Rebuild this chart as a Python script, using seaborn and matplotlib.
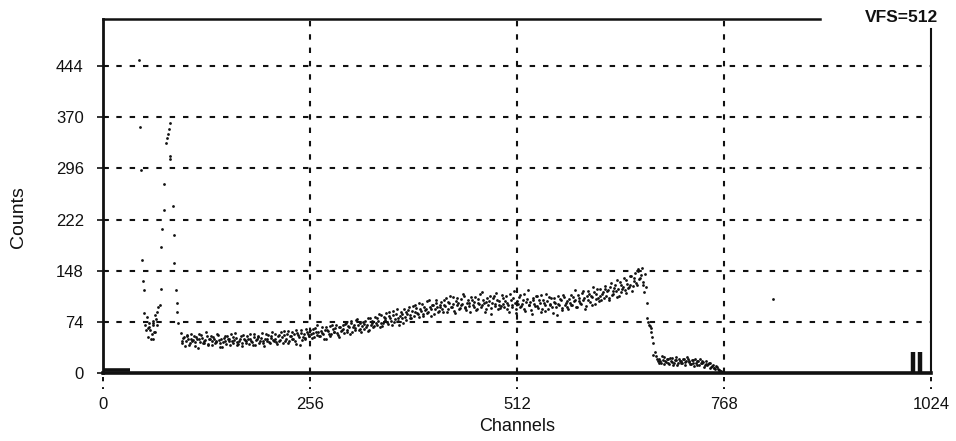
import numpy as np
import pandas as pd
import matplotlib
matplotlib.use("Agg")
import matplotlib.pyplot as plt
import matplotlib.transforms as mtransforms
import seaborn as sns

# ---------------- data ----------------
x_ticks = [0, 256, 512, 768, 1024]
y_ticks = [0, 74, 148, 222, 296, 370, 444]
x_max = 1024
y_max = 512  # VFS

# early peaks (channels ~44-93)
early_ch = [44, 46, 47, 48, 49, 50, 51, 52, 53, 54, 55, 55, 56, 57, 58, 59, 60, 61, 61,
            62, 62, 63, 64, 64, 65, 66, 67, 68, 70, 71, 72, 73, 75, 75, 77, 79, 80, 81,
            82, 82, 83, 86, 87, 88, 90, 91, 91, 93]
early_counts = [452, 356, 293, 164, 133, 120, 87, 70, 63, 81, 65, 52, 66, 72, 62, 50, 57, 76, 50,
                69, 73, 60, 84, 59, 78, 88, 70, 95, 98, 122, 183, 208, 236, 274, 333, 340, 346, 353,
                362, 314, 310, 241, 200, 159, 120, 102, 88, 72]

# main plateau, even channels starting at 96
body_even_start = 96
body_even_counts = [
    58, 44, 52, 47, 55, 41, 50, 46, 53, 39, 49, 57, 45, 51, 43, 48, 54, 40, 50, 46,
    52, 44, 47, 55, 38, 49, 45, 53, 42, 50, 47, 56, 43, 48, 51, 40, 46, 54, 44, 49,
    47, 53, 42, 50, 45, 56, 41, 49, 52, 46, 58, 44, 50, 47, 55, 43, 51, 48, 57, 45,
    53, 47, 59, 44, 55, 50, 61, 46, 54, 49, 57, 42, 58, 52, 63, 48, 56, 51, 60, 54,
    62, 51, 58, 65, 55, 60, 53, 67, 57, 63, 50, 61, 68, 56, 64, 59, 70, 55, 66, 61,
    69, 58, 72, 63, 67, 75, 60, 70, 65, 78, 62, 73, 68, 64, 76, 70, 61, 79, 72, 67,
    81, 70, 76, 66, 84, 73, 79, 87, 71, 82, 76, 90, 74, 85, 79, 69, 88, 80, 92, 77,
    86, 95, 79, 90, 83, 98, 87, 81, 93, 100, 85, 91, 104, 88, 96, 82, 99, 92, 106, 89,
    95, 103, 88, 99, 108, 92, 101, 96, 110, 90, 104, 98, 93, 107, 100, 112, 94, 102, 97, 88,
    105, 96, 110, 92, 101, 114, 98, 106, 89, 103, 99, 111, 94, 108, 100, 116, 93, 104, 97, 109,
    95, 112, 101, 88, 106, 98, 118, 92, 104, 110, 96, 100, 114, 90, 107, 99, 103, 85, 109, 97,
    111, 94, 102, 89, 106, 98, 115, 92, 100, 108, 87, 103, 96, 112, 99, 105, 91, 110, 101, 95,
    107, 113, 98, 104, 120, 95, 109, 102, 116, 106, 93, 112, 118, 103, 110, 125, 100, 114, 108, 121,
    105, 117, 126, 111, 120, 108, 130, 115, 123, 118, 134, 112, 127, 121, 138, 116, 129, 124, 141, 119,
    133, 145, 127, 150, 138, 152, 131, 143,
]

# main plateau, odd channels starting at 97
body_odd_start = 97
body_odd_counts = [
    46, 51, 39, 54, 49, 43, 57, 48, 45, 52, 36, 50, 55, 44, 47, 59, 42, 49, 53, 41,
    50, 45, 56, 48, 43, 37, 51, 46, 54, 49, 41, 47, 52, 58, 45, 42, 50, 39, 55, 48,
    44, 49, 57, 46, 40, 52, 48, 54, 43, 51, 47, 39, 56, 50, 45, 53, 60, 46, 49, 42,
    55, 48, 52, 61, 46, 57, 44, 53, 59, 50, 47, 62, 55, 41, 58, 52, 49, 64, 56, 53,
    57, 64, 52, 60, 69, 54, 61, 58, 49, 66, 62, 57, 53, 70, 60, 65, 58, 52, 67, 63,
    64, 71, 60, 68, 57, 73, 66, 62, 77, 69, 64, 59, 74, 71, 66, 80, 63, 70, 75, 68,
    73, 79, 86, 72, 68, 81, 77, 74, 89, 80, 70, 84, 78, 93, 75, 82, 86, 73, 81, 88,
    91, 84, 80, 97, 88, 94, 85, 102, 90, 83, 96, 92, 87, 105, 93, 98, 86, 101, 95, 90,
    99, 92, 106, 97, 89, 103, 111, 95, 100, 87, 108, 101, 94, 99, 114, 96, 91, 105, 102, 110,
    98, 103, 91, 107, 100, 95, 117, 102, 93, 109, 104, 86, 101, 112, 97, 106, 99, 94, 113, 100,
    104, 92, 99, 115, 96, 108, 102, 87, 100, 113, 97, 106, 93, 103, 120, 98, 91, 105, 100, 111,
    97, 106, 113, 93, 101, 90, 104, 110, 99, 95, 108, 102, 84, 100, 107, 94, 113, 98, 104, 92,
    102, 98, 110, 106, 95, 113, 104, 100, 118, 109, 97, 106, 115, 111, 99, 117, 107, 122, 104, 112,
    115, 109, 122, 118, 106, 124, 113, 119, 128, 110, 122, 131, 117, 125, 120, 135, 123, 128, 140, 126,
    138, 130, 147, 136, 142, 128,
]

# falling edge
drop_ch = [669, 671, 673, 673, 674, 675, 676, 677, 678, 679, 680, 680, 682]
drop_counts = [117, 125, 101, 79, 74, 70, 68, 65, 60, 52, 43, 26, 30]

# low tail, even channels from 684 and odd channels from 685
tail_even_start = 684
tail_even_counts = [
    24, 17, 21, 14, 19, 23, 16, 20, 13, 18, 22, 15, 19, 12, 21, 17, 14, 20, 16, 23,
    18, 13, 19, 15, 21, 12, 17, 20, 14, 16, 11, 18, 13, 15, 9, 12, 8, 10, 6, 5, 3, 1,
]
tail_odd_start = 685
tail_odd_counts = [
    21, 15, 18, 24, 13, 17, 20, 14, 22, 16, 12, 19, 23, 15, 18, 14, 20, 11, 17, 21,
    16, 13, 19, 10, 15, 17, 12, 14, 18, 9, 13, 11, 14, 7, 10, 8, 6, 9, 4, 3, 2,
]

stray_ch = [829]
stray_counts = [107]

# small thick baseline at the start and the spike near the end
base_ch = [0, 33]
base_counts = [4, 4]
spike_ch = [1001, 1010]
spike_counts = [30, 30]


# ---------------- build table ----------------
def every_other(start, values):
    return list(range(start, start + 2 * len(values), 2))


df = pd.DataFrame({
    "Channels": (early_ch + every_other(body_even_start, body_even_counts)
                 + every_other(body_odd_start, body_odd_counts) + drop_ch
                 + every_other(tail_even_start, tail_even_counts)
                 + every_other(tail_odd_start, tail_odd_counts) + stray_ch),
    "Counts": (early_counts + body_even_counts + body_odd_counts + drop_counts
               + tail_even_counts + tail_odd_counts + stray_counts),
})

# ---------------- plot ----------------
sns.set_style("white")
plt.rcParams["font.family"] = ["Liberation Sans", "DejaVu Sans"]
ink = "#111111"

fig = plt.figure(figsize=(9.56, 4.41), dpi=100)
ax = fig.add_axes([0.108, 0.154, 0.974 - 0.108, 0.957 - 0.154])

sns.scatterplot(data=df, x="Channels", y="Counts", ax=ax, s=4, color=ink,
                linewidth=0, marker="o", zorder=3)
ax.plot(base_ch, base_counts, color=ink, lw=2.6, solid_capstyle="butt", zorder=3)
ax.vlines(spike_ch, 0, spike_counts, color=ink, lw=3.2, zorder=3)

ax.set_xlim(0, x_max)
ax.set_ylim(0, y_max)

# dashed grid
dash = (0, (2.6, 3.8))
for yv in y_ticks[1:]:
    ax.axhline(yv, color=ink, lw=1.5, ls=dash, zorder=1)
for xv in x_ticks[1:-1]:
    ax.axvline(xv, color=ink, lw=1.5, ls=dash, zorder=1)
# little dotted marks below the axis
trans = mtransforms.blended_transform_factory(ax.transData, ax.transAxes)
for xv in x_ticks:
    ax.plot([xv, xv], [-0.012, -0.045], transform=trans, color=ink, lw=1.4,
            ls=(0, (2.2, 3.0)), clip_on=False)

ax.set_xticks(x_ticks)
ax.set_yticks(y_ticks)
ax.tick_params(axis="x", length=0, pad=17, labelsize=12, labelcolor=ink)
ax.tick_params(axis="y", direction="inout", length=9, width=1.2, color=ink,
               pad=9.5, labelsize=12, labelcolor=ink, left=True)

ax.set_xlabel("Channels", fontsize=13, color=ink)
ax.set_ylabel("Counts", fontsize=14, color=ink)
ax.xaxis.set_label_coords(0.5, -0.128)
ax.yaxis.set_label_coords(-0.092, 0.44)

for side, w in [("left", 2.0), ("bottom", 2.6), ("top", 1.8), ("right", 1.5)]:
    ax.spines[side].set_visible(True)
    ax.spines[side].set_color(ink)
    ax.spines[side].set_linewidth(w)
ax.spines["top"].set_bounds(0, 887)
ax.spines["right"].set_bounds(0, 498)

fig.text(0.981, 1 - 17 / 441, "VFS=512", ha="right", va="center",
         fontsize=12.5, fontweight="bold", color=ink)

fig.savefig("out.png", dpi=100, facecolor="white")
